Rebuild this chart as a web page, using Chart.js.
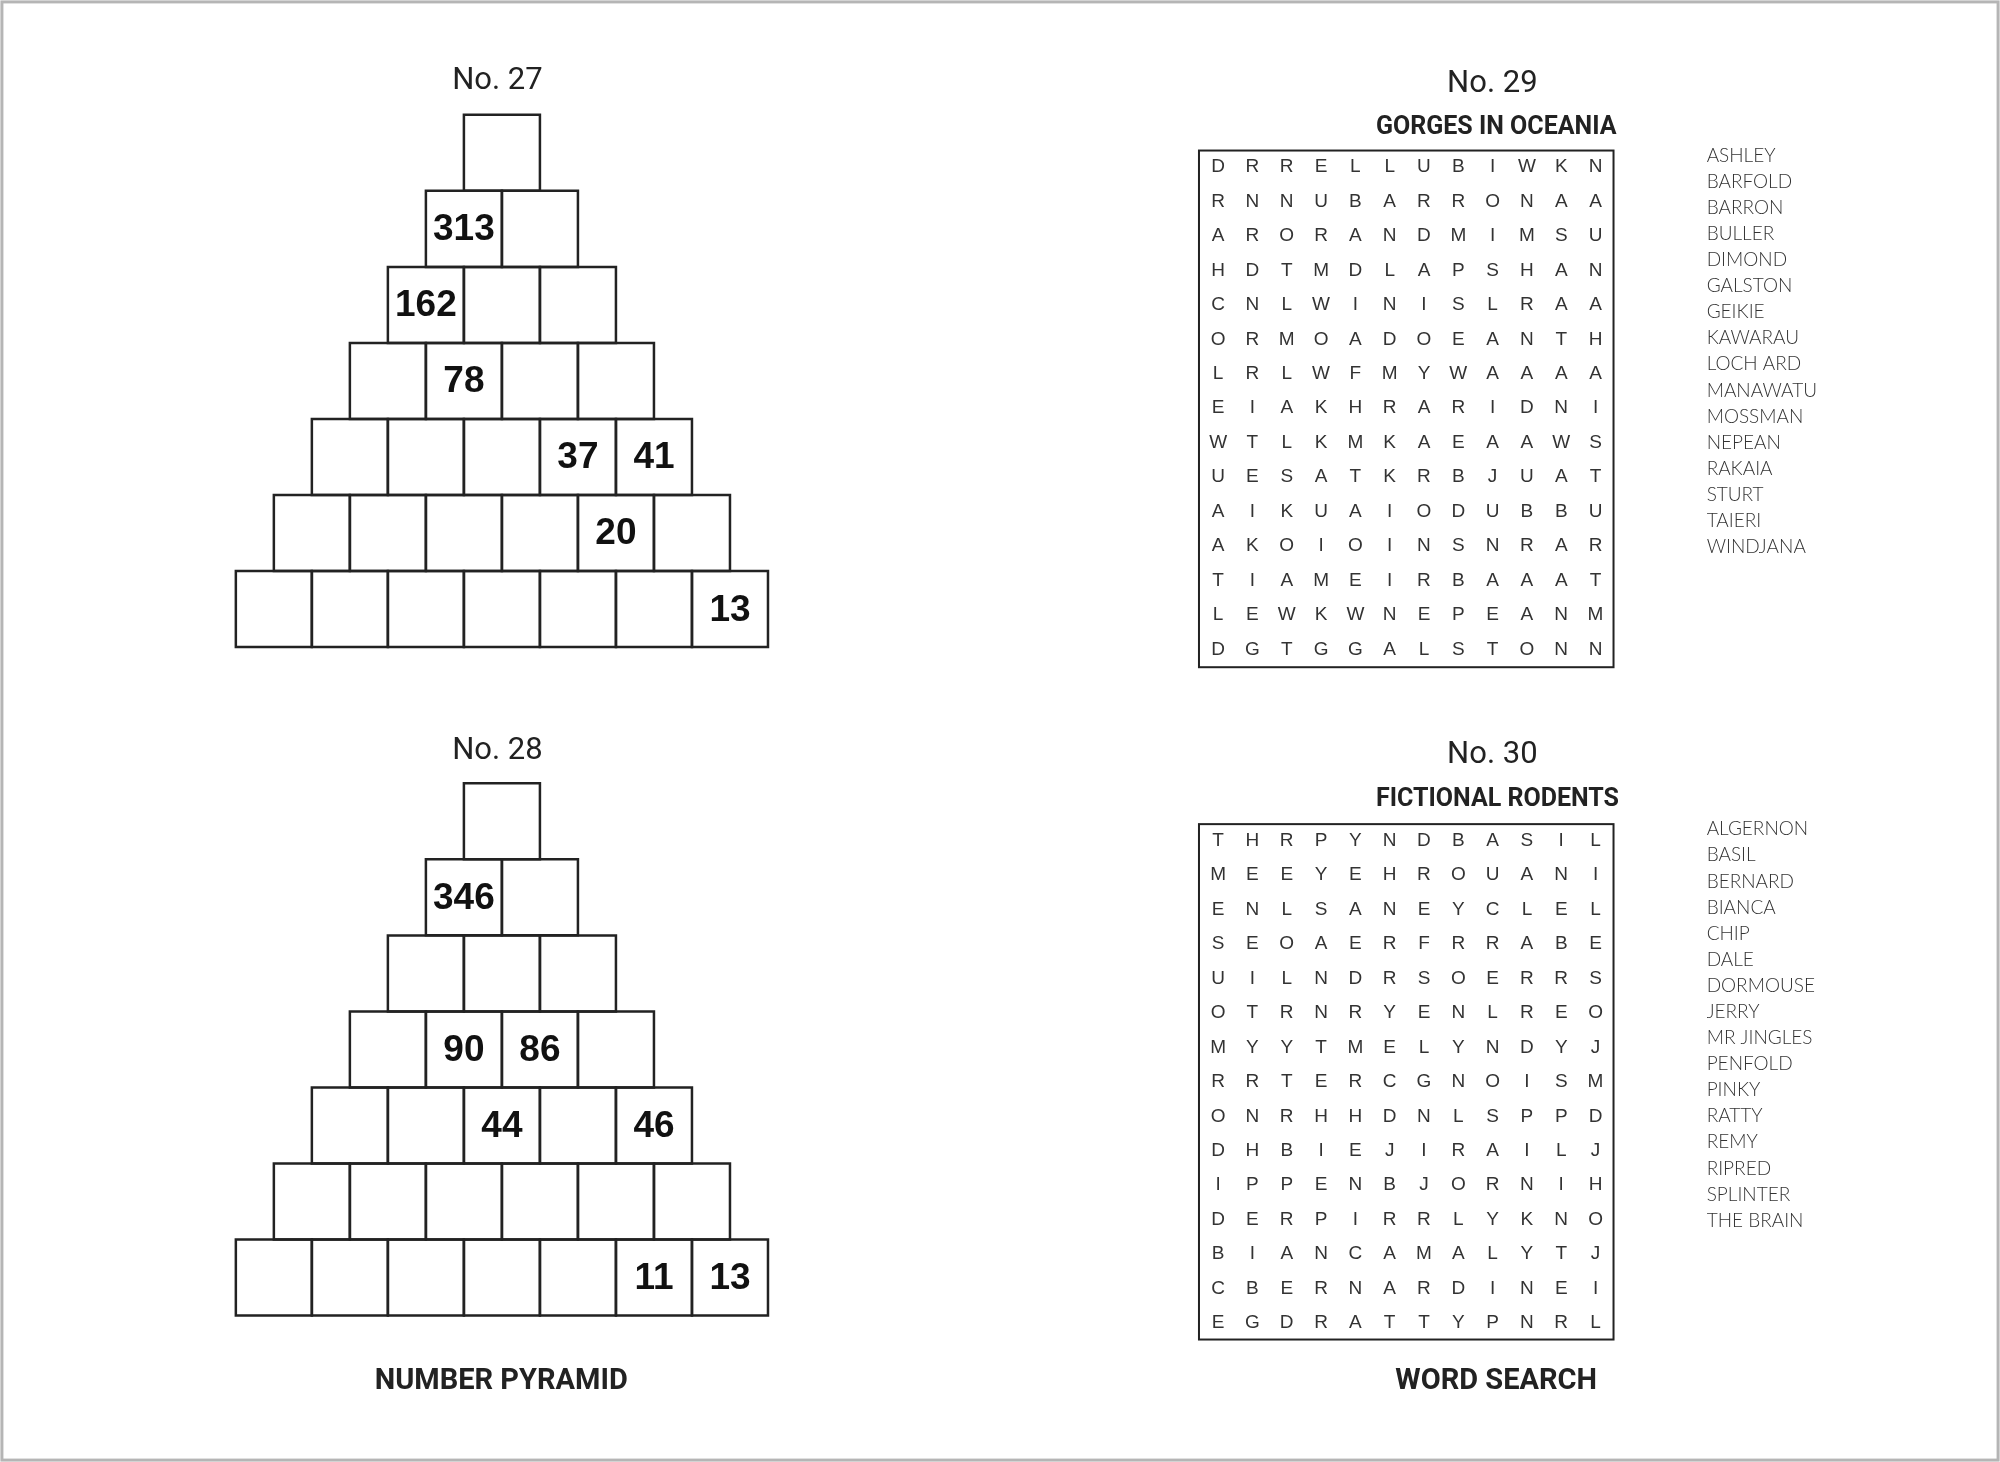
<!DOCTYPE html>
<html><head><meta charset="utf-8">
<script src="https://cdn.jsdelivr.net/npm/chart.js@4"></script>
<style>html,body{margin:0;padding:0;background:#fff}canvas{display:block}</style>
</head><body>
<canvas id="c" width="2000" height="1462"></canvas>
<script>
// ---- data ----
const pyramid27 = [[""],["313",""],["162","",""],["","78","",""],["","","","37","41"],["","","","","20",""],["","","","","","","13"]];
const pyramid28 = [[""],["346",""],["","",""],["","90","86",""],["","","44","","46"],["","","","","",""],["","","","","","11","13"]];
const grid29 = ["DRRELLUBIWKN","RNNUBARRONAA","ARORANDMIMSU","HDTMDLAPSHAN","CNLWINISLRAA","ORMOADOEANTH","LRLWFMYWAAAA","EIAKHRARIDNI","WTLKMKAEAAWS","UESATKRBJUAT","AIKUAIODUBBU","AKOIOINSNRAR","TIAMEIRBAAAT","LEWKWNEPEANM","DGTGGALSTONN"];
const grid30 = ["THRPYNDBASIL","MEEYEHROUANI","ENLSANEYCLEL","SEOAERFRRABE","UILNDRSOERRS","OTRNRYENLREO","MYYTMELYNDYJ","RRTERCGNOISM","ONRHHDNLSPPD","DHBIEJIRAILJ","IPPENBJORNIH","DERPIRRLYKNO","BIANCAMALYTJ","CBERNARDINEI","EGDRATTYPNRL"];
const words29 = ["ASHLEY","BARFOLD","BARRON","BULLER","DIMOND","GALSTON","GEIKIE","KAWARAU","LOCH ARD","MANAWATU","MOSSMAN","NEPEAN","RAKAIA","STURT","TAIERI","WINDJANA"];
const words30 = ["ALGERNON","BASIL","BERNARD","BIANCA","CHIP","DALE","DORMOUSE","JERRY","MR JINGLES","PENFOLD","PINKY","RATTY","REMY","RIPRED","SPLINTER","THE BRAIN"];
const titles = ["No. 27","No. 28","No. 29","No. 30"];
const subtitles = ["GORGES IN OCEANIA","FICTIONAL RODENTS"];
const footers = ["NUMBER PYRAMID","WORD SEARCH"];

// ---- layout (reference units: 1568 x 1146) ----
const CELL = 59.6, PCX = 393.5;
const pyrTops = [90, 614];
const gridBoxes = [{x0:940,x1:1265,y0:118,y1:523,ly:131,wy:122},{x0:940,x1:1265,y0:646,y1:1050,ly:659,wy:650}];
const LX0 = 955, LDX = 26.9, LDY = 27, WX = 1338, WDY = 20.45;

function pyrPoints(p, top){
  const pts=[];
  p.forEach((row,r)=>row.forEach((v,c)=>{
    pts.push({x:PCX-(row.length*CELL)/2+CELL*(c+0.5), y:top+CELL*(r+0.5), label:v});
  }));
  return pts;
}
const pyrData=[pyrPoints(pyramid27,pyrTops[0]),pyrPoints(pyramid28,pyrTops[1])];

const textPlugin={id:'txt',afterDatasetsDraw(chart){
  const ctx=chart.ctx, X=v=>chart.scales.x.getPixelForValue(v), Y=v=>chart.scales.y.getPixelForValue(v);
  ctx.save();
  ctx.strokeStyle='#b5b5b5'; ctx.lineWidth=3;
  ctx.strokeRect(X(1.5),Y(1.5),X(1566.5)-X(1.5),Y(1144.5)-Y(1.5));
  ctx.fillStyle='#111'; ctx.textAlign='center'; ctx.textBaseline='middle';
  ctx.font='bold 37px "Liberation Sans", Arial';
  pyrData.forEach(ds=>ds.forEach(p=>{ if(p.label) ctx.fillText(p.label,X(p.x),Y(p.y+1)); }));
  ctx.font='400 31px "Roboto", sans-serif'; ctx.fillStyle='#222';
  [[390,64],[390,589],[1170,66],[1170,592]].forEach((t,i)=>ctx.fillText(titles[i],X(t[0]),Y(t[1])));
  ctx.font='bold 25px "Roboto", sans-serif';
  ctx.fillText(subtitles[0],X(1173),Y(100)); ctx.fillText(subtitles[1],X(1174),Y(627));
  ctx.font='bold 29px "Roboto", sans-serif';
  ctx.fillText(footers[0],X(393),Y(1083)); ctx.fillText(footers[1],X(1173),Y(1083));
  [grid29,grid30].forEach((g,i)=>{
    const b=gridBoxes[i];
    ctx.strokeStyle='#222'; ctx.lineWidth=2;
    ctx.strokeRect(X(b.x0),Y(b.y0),X(b.x1)-X(b.x0),Y(b.y1)-Y(b.y0));
    ctx.font='19px "Liberation Sans", Arial'; ctx.fillStyle='#333'; ctx.textAlign='center';
    g.forEach((row,r)=>[...row].forEach((ch,c)=>ctx.fillText(ch,X(LX0+c*LDX),Y(b.ly+r*LDY))));
    ctx.font='300 19px "Lato", sans-serif'; ctx.textAlign='left';
    [words29,words30][i].forEach((w,k)=>ctx.fillText(w,X(WX),Y(b.wy+k*WDY)));
    ctx.textAlign='center';
  });
  ctx.restore();
}};

const cellSide = CELL*2000/1568;
new Chart(document.getElementById('c'),{
  type:'scatter',
  data:{datasets:pyrData.map(d=>({data:d,pointStyle:'rect',radius:cellSide/Math.SQRT2,hoverRadius:cellSide/Math.SQRT2,
    backgroundColor:'rgba(0,0,0,0)',borderColor:'#222',borderWidth:2.5,clip:false}))},
  options:{responsive:false,animation:false,devicePixelRatio:1,
    layout:{padding:0,autoPadding:false},
    plugins:{legend:{display:false},tooltip:{enabled:false}},
    scales:{x:{type:'linear',min:0,max:1568,display:false},y:{type:'linear',min:0,max:1146,reverse:true,display:false}}},
  plugins:[textPlugin]
});
</script>
</body></html>
